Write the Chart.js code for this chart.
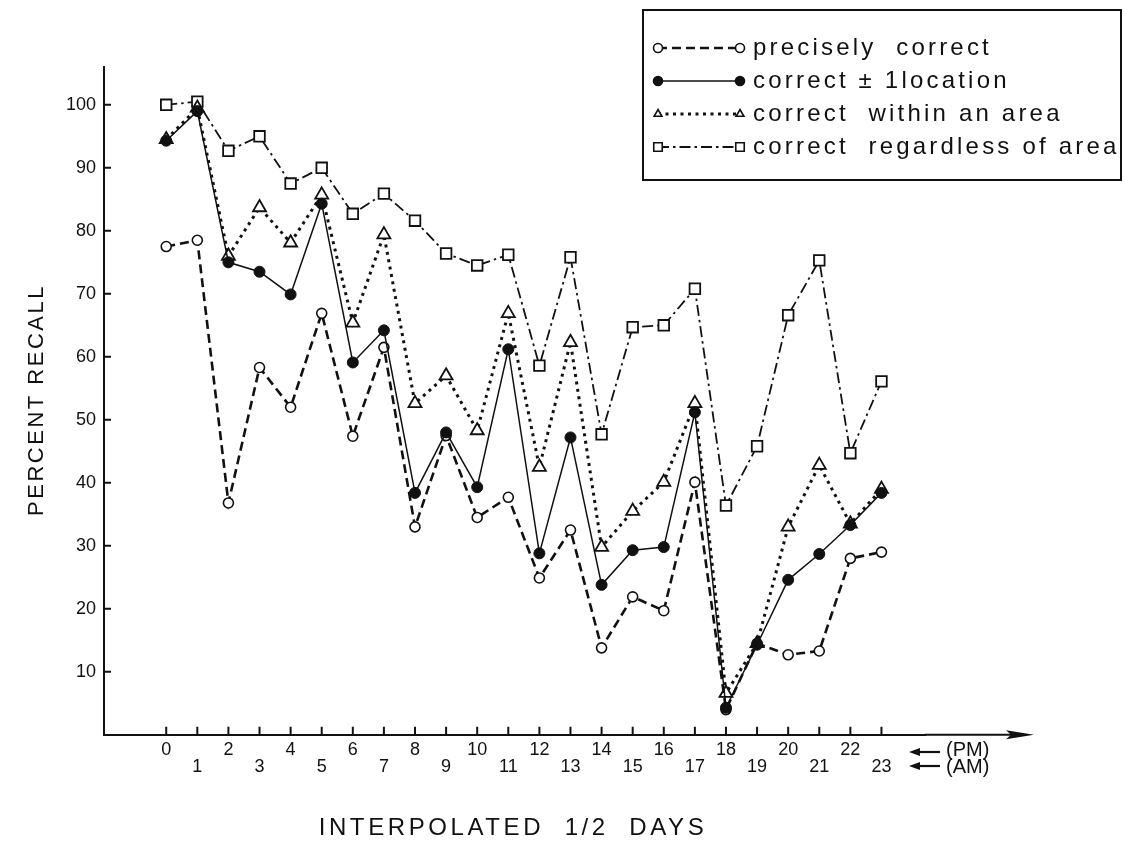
<!DOCTYPE html>
<html>
<head>
<meta charset="utf-8">
<script src="https://cdn.jsdelivr.net/npm/chart.js@4/dist/chart.umd.min.js"></script>
<style>
  html, body { margin: 0; padding: 0; background: #fff; }
  #wrap { width: 1124px; height: 846px; }
</style>
</head>
<body>
<div id="wrap"><canvas id="recall" width="1124" height="846"></canvas></div>
<script>
const halfDays = [0, 1, 2, 3, 4, 5, 6, 7, 8, 9, 10, 11, 12, 13, 14, 15, 16, 17, 18, 19, 20, 21, 22, 23];
const recallTicks = [10, 20, 30, 40, 50, 60, 70, 80, 90, 100];

const preciselyCorrect = [77.5, 78.5, 36.8, 58.3, 52, 66.9, 47.4, 61.5, 33, 47.5, 34.5, 37.7, 24.9, 32.5, 13.8, 21.9, 19.7, 40.1, 4, 14.5, 12.7, 13.3, 28, 29];
const withinOneLocation = [94.3, 99, 75, 73.5, 69.9, 84.3, 59.1, 64.2, 38.4, 48, 39.3, 61.2, 28.8, 47.2, 23.8, 29.3, 29.8, 51.2, 4.3, 14.3, 24.6, 28.7, 33.3, 38.4];
const withinArea = [94.5, 99.5, 76, 83.7, 78.1, 85.7, 65.4, 79.4, 52.6, 57, 48.3, 66.9, 42.5, 62.3, 29.8, 35.5, 40.1, 52.6, 6.6, 14.5, 33, 42.8, 33.5, 39];
const regardlessOfArea = [100, 100.5, 92.7, 95, 87.5, 90, 82.7, 85.9, 81.6, 76.4, 74.5, 76.2, 58.6, 75.8, 47.7, 64.7, 65, 70.8, 36.4, 45.8, 66.6, 75.3, 44.7, 56.1];

const seriesLabels = ['precisely  correct', 'correct \u00B1 1location', 'correct  within an area', 'correct  regardless of area'];

const ink = '#111';
const fontFamily = '"Liberation Sans", Arial, Helvetica, sans-serif';

const toPoints = values => values.map((v, i) => ({ x: halfDays[i], y: v }));

function drawMarker(ctx, style, filled, r, x, y) {
  ctx.beginPath();
  if (style === 'circle') {
    ctx.arc(x, y, r, 0, Math.PI * 2);
  } else if (style === 'rect') {
    const s = r * Math.SQRT1_2;
    ctx.rect(x - s, y - s, s * 2, s * 2);
  } else {
    ctx.moveTo(x, y - r);
    ctx.lineTo(x + r * 0.866, y + r * 0.5);
    ctx.lineTo(x - r * 0.866, y + r * 0.5);
    ctx.closePath();
  }
  ctx.fillStyle = filled ? ink : '#fff';
  ctx.fill();
  ctx.stroke();
}

function arrowLeft(ctx, x1, x2, y) {
  ctx.beginPath();
  ctx.moveTo(x2, y);
  ctx.lineTo(x1 + 8, y);
  ctx.stroke();
  ctx.beginPath();
  ctx.moveTo(x1, y);
  ctx.lineTo(x1 + 11, y - 4);
  ctx.lineTo(x1 + 11, y + 4);
  ctx.closePath();
  ctx.fill();
}

// everything the old figure has that the library doesn't draw by itself
const figureDecor = {
  id: 'figureDecor',
  afterDraw(chart) {
    const { ctx, chartArea, scales } = chart;
    const bottom = chartArea.bottom;
    ctx.save();
    ctx.strokeStyle = ink;
    ctx.fillStyle = ink;
    ctx.lineWidth = 2;

    // tick marks point into the plot
    ctx.beginPath();
    scales.x.ticks.forEach(t => {
      const px = scales.x.getPixelForValue(t.value);
      ctx.moveTo(px, bottom);
      ctx.lineTo(px, bottom - 8);
    });
    scales.y.ticks.forEach(t => {
      const py = scales.y.getPixelForValue(t.value);
      ctx.moveTo(chartArea.left, py);
      ctx.lineTo(chartArea.left + 7, py);
    });
    // x axis runs on past the plot into an arrow
    ctx.moveTo(chartArea.right, bottom);
    ctx.lineTo(1012, bottom);
    ctx.stroke();
    ctx.beginPath();
    ctx.moveTo(1034, bottom);
    ctx.lineTo(1006, bottom - 4.5);
    ctx.lineTo(1011, bottom);
    ctx.lineTo(1006, bottom + 4.5);
    ctx.closePath();
    ctx.fill();

    // PM / AM row markers
    ctx.lineWidth = 2.2;
    arrowLeft(ctx, 909, 940, 752);
    arrowLeft(ctx, 909, 940, 766);
    ctx.font = '20px ' + fontFamily;
    ctx.textAlign = 'left';
    ctx.textBaseline = 'middle';
    ctx.fillText('(PM)', 946, 750);
    ctx.fillText('(AM)', 946, 767);

    // axis titles
    ctx.letterSpacing = '3.6px';
    ctx.textAlign = 'center';
    ctx.font = '24px ' + fontFamily;
    ctx.fillText('INTERPOLATED  1/2  DAYS', 513, 828);
    ctx.save();
    ctx.translate(37, 400);
    ctx.rotate(-Math.PI / 2);
    ctx.font = '22px ' + fontFamily;
    ctx.letterSpacing = '2.5px';
    ctx.fillText('PERCENT RECALL', 0, 0);
    ctx.restore();

    // legend box
    ctx.lineWidth = 2;
    ctx.strokeRect(643, 10, 478, 170);
    ctx.font = '24px ' + fontFamily;
    ctx.letterSpacing = '3.2px';
    ctx.textAlign = 'left';
    chart.data.datasets.forEach((ds, i) => {
      const ry = 48 + i * 33;
      ctx.save();
      ctx.lineWidth = ds.borderWidth;
      ctx.setLineDash(ds.borderDash || []);
      ctx.beginPath();
      ctx.moveTo(658, ry);
      ctx.lineTo(740, ry);
      ctx.stroke();
      ctx.restore();
      ctx.lineWidth = 1.6;
      const r = ds.pointStyle === 'rect' ? 6 : 4.5;
      drawMarker(ctx, ds.pointStyle, ds.pointBackgroundColor === ink, r, 658, ry);
      drawMarker(ctx, ds.pointStyle, ds.pointBackgroundColor === ink, r, 740, ry);
      ctx.fillStyle = ink;
      ctx.fillText(seriesLabels[i], 753, ry);
    });
    ctx.restore();
  }
};

new Chart(document.getElementById('recall'), {
  type: 'line',
  data: {
    datasets: [
      {
        label: seriesLabels[0],
        data: toPoints(preciselyCorrect),
        borderColor: ink,
        borderWidth: 2.6,
        borderDash: [9, 5],
        pointStyle: 'circle',
        pointRadius: 5,
        pointBorderWidth: 1.6,
        pointBackgroundColor: '#fff',
        pointBorderColor: ink,
        order: 1
      },
      {
        label: seriesLabels[1],
        data: toPoints(withinOneLocation),
        borderColor: ink,
        borderWidth: 1.5,
        pointStyle: 'circle',
        pointRadius: 5.5,
        pointBorderWidth: 1,
        pointBackgroundColor: ink,
        pointBorderColor: ink,
        order: 0
      },
      {
        label: seriesLabels[2],
        data: toPoints(withinArea),
        borderColor: ink,
        borderWidth: 3,
        borderDash: [3, 4.5],
        pointStyle: 'triangle',
        pointRadius: 7.5,
        pointBorderWidth: 1.8,
        pointBackgroundColor: '#fff',
        pointBorderColor: ink,
        order: 2
      },
      {
        label: seriesLabels[3],
        data: toPoints(regardlessOfArea),
        borderColor: ink,
        borderWidth: 1.8,
        borderDash: [11, 4, 2.5, 4],
        pointStyle: 'rect',
        pointRadius: 7.5,
        pointBorderWidth: 1.8,
        pointBackgroundColor: '#fff',
        pointBorderColor: ink,
        order: 3
      }
    ]
  },
  options: {
    responsive: false,
    animation: false,
    tension: 0,
    layout: {
      padding: { top: 67, left: 58, right: 199, bottom: 63 }
    },
    plugins: {
      legend: { display: false },
      tooltip: { enabled: false }
    },
    scales: {
      x: {
        type: 'linear',
        min: -2,
        max: 24.4,
        afterBuildTicks: scale => {
          scale.ticks = halfDays.map(v => ({ value: v }));
        },
        grid: { display: false, drawTicks: false },
        border: { display: true, color: ink, width: 2 },
        ticks: {
          autoSkip: false,
          maxRotation: 0,
          padding: 7,
          color: ink,
          font: { family: fontFamily, size: 18, lineHeight: 0.95 },
          // PM half-days on the upper row, AM half-days on the lower row
          callback: value => value % 2 === 0 ? [String(value), ''] : ['', String(value)]
        }
      },
      y: {
        min: 0,
        max: 106,
        afterBuildTicks: scale => {
          scale.ticks = recallTicks.map(v => ({ value: v }));
        },
        grid: { display: false, drawTicks: false },
        border: { display: true, color: ink, width: 2 },
        ticks: {
          padding: 8,
          color: ink,
          font: { family: fontFamily, size: 18 }
        }
      }
    }
  },
  plugins: [figureDecor]
});
</script>
</body>
</html>
